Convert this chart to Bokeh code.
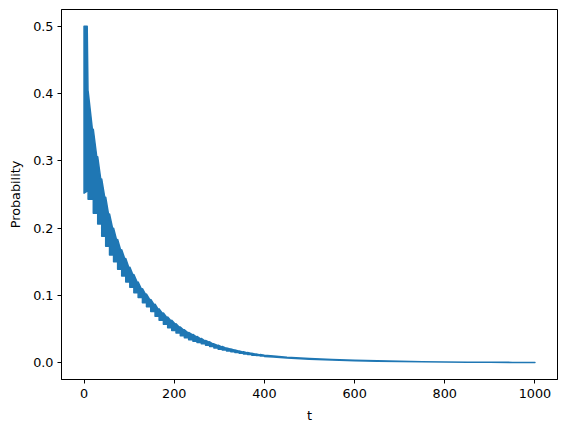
from bokeh.plotting import figure
from bokeh.models import Range1d, FixedTicker
from bokeh.embed import file_html
from bokeh.resources import INLINE

BLUE = "#1f77b4"
FONT = "DejaVu Sans"

# ---- data ----
# initial flat-topped bar
bar_t = [0, 7]
bar_hi = [0.500, 0.500]
bar_lo = [0.252, 0.255]

# oscillation "teeth": start time, notch just before, peak, trough
tooth_t = [9, 20.5, 30.3, 39.2, 48, 56.5, 65.5, 74.5, 83.5, 92.5,
           101.5, 110.5, 120, 129.5, 138.5, 148, 157.5, 166.5, 176, 185.5,
           194.5, 204, 213.5, 222.5, 232, 241.5, 250.5, 260, 269.5, 278.5,
           288, 297.5, 306.5, 316, 325.5, 334.5, 344, 353.5, 362.5, 372,
           381.5, 390.5, 400]
tooth_notch = [0.390, 0.335, 0.295, 0.262, 0.237, 0.212, 0.193, 0.176, 0.162, 0.150,
               0.137, 0.127, 0.116, 0.106, 0.099, 0.091, 0.084, 0.077, 0.0715, 0.0655,
               0.061, 0.056, 0.051, 0.0474, 0.0435, 0.0408, 0.0378, 0.0348, 0.0318, 0.0302,
               0.0268, 0.0252, 0.0232, 0.0212, 0.0199, 0.0184, 0.0169, 0.0157, 0.0145, 0.0136,
               0.0126, 0.0116, 0.0109]
tooth_hi = [0.404, 0.347, 0.306, 0.273, 0.246, 0.221, 0.200, 0.183, 0.168, 0.155,
            0.142, 0.131, 0.120, 0.110, 0.102, 0.094, 0.087, 0.080, 0.074, 0.068,
            0.063, 0.058, 0.053, 0.049, 0.045, 0.042, 0.039, 0.036, 0.033, 0.031,
            0.028, 0.026, 0.024, 0.022, 0.0205, 0.019, 0.0175, 0.0162, 0.015, 0.014,
            0.013, 0.012, 0.0112]
tooth_lo = [0.243, 0.222, 0.206, 0.188, 0.173, 0.160, 0.150, 0.139, 0.129, 0.120,
            0.112, 0.104, 0.097, 0.089, 0.083, 0.076, 0.069, 0.063, 0.057, 0.052,
            0.048, 0.044, 0.040, 0.037, 0.034, 0.032, 0.030, 0.028, 0.026, 0.024,
            0.022, 0.020, 0.019, 0.0175, 0.0163, 0.015, 0.014, 0.013, 0.012, 0.0112,
            0.0105, 0.0098, 0.0092]

# smooth tail
tail_t = [420, 450, 500, 550, 600, 650, 700, 750, 800, 850, 900, 950, 1000]
tail_hi = [0.0100, 0.0082, 0.0062, 0.0047, 0.0035, 0.0027, 0.0020, 0.0015,
           0.0011, 0.0008, 0.0006, 0.00045, 0.0003]
tail_lo = [0.0084, 0.0068, 0.0052, 0.0039, 0.0029, 0.0022, 0.0016, 0.0012,
           0.0009, 0.0007, 0.0005, 0.0004, 0.0003]

x_ticks = [0, 200, 400, 600, 800, 1000]
x_tick_labels = ["0", "200", "400", "600", "800", "1000"]
y_ticks = [0.0, 0.1, 0.2, 0.3, 0.4, 0.5]
y_tick_labels = ["0.0", "0.1", "0.2", "0.3", "0.4", "0.5"]

# ---- build band outline from the arrays ----
ux = list(bar_t)
uy = list(bar_hi)
for t, n, h in zip(tooth_t, tooth_notch, tooth_hi):
    ux += [t, t]
    uy += [n, h]
ux += tail_t
uy += tail_hi

lx = list(bar_t)
ly = list(bar_lo)
prev = bar_lo[-1]
for t, l in zip(tooth_t, tooth_lo):
    lx += [t, t]
    ly += [prev, l]
    prev = l
lx += tail_t
ly += tail_lo

xs = ux + lx[::-1]
ys = uy + ly[::-1]

p = figure(width=567, height=432,
           x_range=Range1d(-50, 1050), y_range=Range1d(-0.025, 0.525),
           output_backend="svg", toolbar_location=None,
           min_border_left=61, min_border_right=10,
           min_border_top=9, min_border_bottom=53)

p.patch(xs, ys, fill_color=BLUE, line_color=BLUE, line_width=1.5,
        line_join="round")

p.xgrid.visible = False
p.ygrid.visible = False
p.outline_line_color = "black"
p.outline_line_width = 1
p.background_fill_color = "white"
p.border_fill_color = "white"

p.xaxis.ticker = FixedTicker(ticks=x_ticks)
p.xaxis.major_label_overrides = {t: s for t, s in zip(x_ticks, x_tick_labels)}
p.yaxis.ticker = FixedTicker(ticks=y_ticks)
p.yaxis.major_label_overrides = {t: s for t, s in zip(y_ticks, y_tick_labels)}

p.xaxis.axis_label = "t"
p.yaxis.axis_label = "Probability"

for ax in (p.xaxis[0], p.yaxis[0]):
    ax.axis_line_color = "black"
    ax.axis_line_width = 1
    ax.major_tick_line_color = "black"
    ax.major_tick_out = 4
    ax.major_tick_in = 0
    ax.minor_tick_line_color = None
    ax.major_label_text_font = FONT
    ax.major_label_text_font_size = "12.8px"
    ax.major_label_text_color = "black"
    ax.axis_label_text_font = FONT
    ax.axis_label_text_font_size = "12.8px"
    ax.axis_label_text_font_style = "normal"
    ax.axis_label_text_color = "black"

p.yaxis.major_label_standoff = 4
p.yaxis.axis_label_standoff = 7
p.xaxis.major_label_standoff = 5
p.xaxis.axis_label_standoff = 7

open("out.html", "w").write(file_html(p, INLINE))
